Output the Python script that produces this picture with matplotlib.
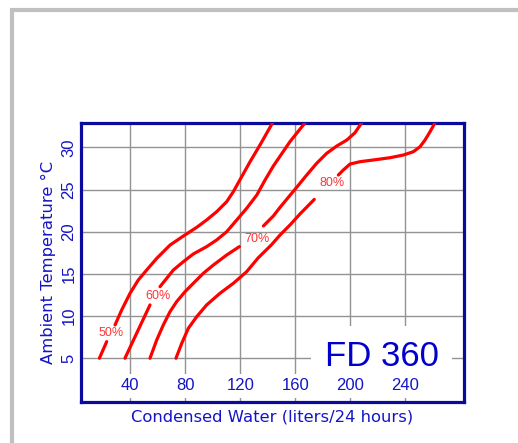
import matplotlib
matplotlib.use("Agg")
import matplotlib.pyplot as plt
from matplotlib.patches import Rectangle

# humidity curves, each split in two pieces around its label
rh_labels = ["50%", "60%", "70%", "80%"]

x50_a = [17.5, 22.8]
y50_a = [5.0, 6.97]
x50_b = [28.9, 33.7, 39.8, 45.8, 51.9, 59.2, 68.9, 78.6, 88.3, 95.5, 102.8, 110.1, 114.9, 121.0, 127.1, 134.3, 143.5]
y50_b = [8.95, 10.72, 12.7, 14.28, 15.46, 16.84, 18.42, 19.49, 20.52, 21.39, 22.37, 23.56, 24.74, 26.52, 28.3, 30.27, 32.92]

x60_a = [36.1, 44.6, 54.3]
y60_a = [5.0, 7.96, 11.32]
x60_b = [61.6, 71.3, 78.6, 85.8, 95.5, 102.8, 110.1, 117.4, 124.6, 132.0, 138.0, 144.0, 156.1, 167.1]
y60_b = [13.49, 15.46, 16.45, 17.36, 18.23, 19.02, 20.0, 21.39, 22.77, 24.35, 26.13, 27.78, 30.67, 32.91]

x70_a = [54.3, 59.2, 64.0, 68.9, 73.7, 79.8, 85.8, 93.1, 100.4, 110.1, 119.3]
y70_a = [5.0, 7.17, 8.95, 10.53, 11.71, 12.89, 13.88, 15.07, 16.05, 17.24, 18.23]
x70_b = [136.8, 144.0, 148.9, 154.9, 161.0, 168.3, 175.5, 182.8, 190.1, 197.4, 203.4, 208.3]
y70_b = [20.68, 21.86, 22.89, 24.07, 25.26, 26.72, 28.1, 29.29, 30.15, 30.86, 31.73, 32.92]

x80_a = [73.2, 77.4, 82.2, 88.3, 95.5, 105.2, 114.9, 124.6, 133.0, 142.5, 148.9, 156.1, 163.4, 173.8]
y80_a = [5.0, 6.77, 8.55, 9.93, 11.32, 12.7, 13.88, 15.26, 16.9, 18.42, 19.61, 20.79, 22.1, 23.83]
x80_b = [191.3, 194.9, 199.8, 207.1, 216.7, 228.9, 238.6, 245.8, 250.7, 254.3, 258.0, 261.6]
y80_b = [26.72, 27.31, 28.02, 28.3, 28.5, 28.77, 29.09, 29.48, 30.07, 30.86, 31.85, 32.92]

label_x = [26.2, 60.4, 132.1, 186.7]
label_y = [8.03, 12.42, 19.17, 25.73]

xticks = [40, 80, 120, 160, 200, 240]
yticks = [5, 10, 15, 20, 25, 30]

blue = "#1414c8"
frame = "#0a0a9c"
red = "#ff0000"

fig = plt.figure(figsize=(5.18, 4.43), dpi=100)
ax = fig.add_axes([80.7 / 518, 1 - 401.7 / 443, (464 - 80.7) / 518, (401.7 - 123.3) / 443])

# outer gray border
fig.add_artist(Rectangle((12 / 518, -0.1), 1.2, 1.1 - 10 / 443, transform=fig.transFigure,
                         fill=False, edgecolor="#c0c0c0", linewidth=3))

curves = [(x50_a, y50_a, x50_b, y50_b), (x60_a, y60_a, x60_b, y60_b),
          (x70_a, y70_a, x70_b, y70_b), (x80_a, y80_a, x80_b, y80_b)]
for xa, ya, xb, yb in curves:
    ax.plot(xa, ya, color=red, lw=2.3, solid_capstyle="round", zorder=3)
    ax.plot(xb, yb, color=red, lw=2.3, solid_capstyle="round", zorder=3)

for lab, lx, ly in zip(rh_labels, label_x, label_y):
    ax.text(lx, ly, lab, color="#ff3535", fontsize=9, family="Liberation Sans",
            ha="center", va="center", zorder=4)

ax.set_xlim(3.9, 282.7)
ax.set_ylim(-0.15, 32.85)
ax.set_xticks(xticks)
ax.set_yticks(yticks)
ax.set_xticklabels([])
ax.grid(True, color="#939393", lw=1)
ax.set_axisbelow(True)

# x tick labels sit inside the frame on white patches
for xt in xticks:
    ax.text(xt, 1.72, str(xt), color=blue, fontsize=12, family="Liberation Sans",
            ha="center", va="center", zorder=6,
            bbox=dict(facecolor="white", edgecolor="none", boxstyle="square,pad=0.25"))

ax.tick_params(axis="x", length=0)
ax.tick_params(axis="y", length=0, pad=3, labelsize=12, labelcolor=blue, labelrotation=90)
for t in ax.get_yticklabels():
    t.set_family("Liberation Sans")
    t.set_va("center")

for s in ax.spines.values():
    s.set_color(frame)
    s.set_linewidth(2.3)

ax.text(222.7, 4.1, "FD 360", color="#0000cc", fontsize=25, family="Liberation Sans",
        ha="center", va="baseline", zorder=5,
        bbox=dict(facecolor="white", edgecolor="none", boxstyle="square,pad=0.4"))

ax.set_xlabel("Condensed Water (liters/24 hours)", color=blue, fontsize=11.8, labelpad=2)
ax.set_ylabel("Ambient Temperature °C", color=blue, fontsize=11.8, labelpad=4)

fig.savefig("out.png", dpi=100)
